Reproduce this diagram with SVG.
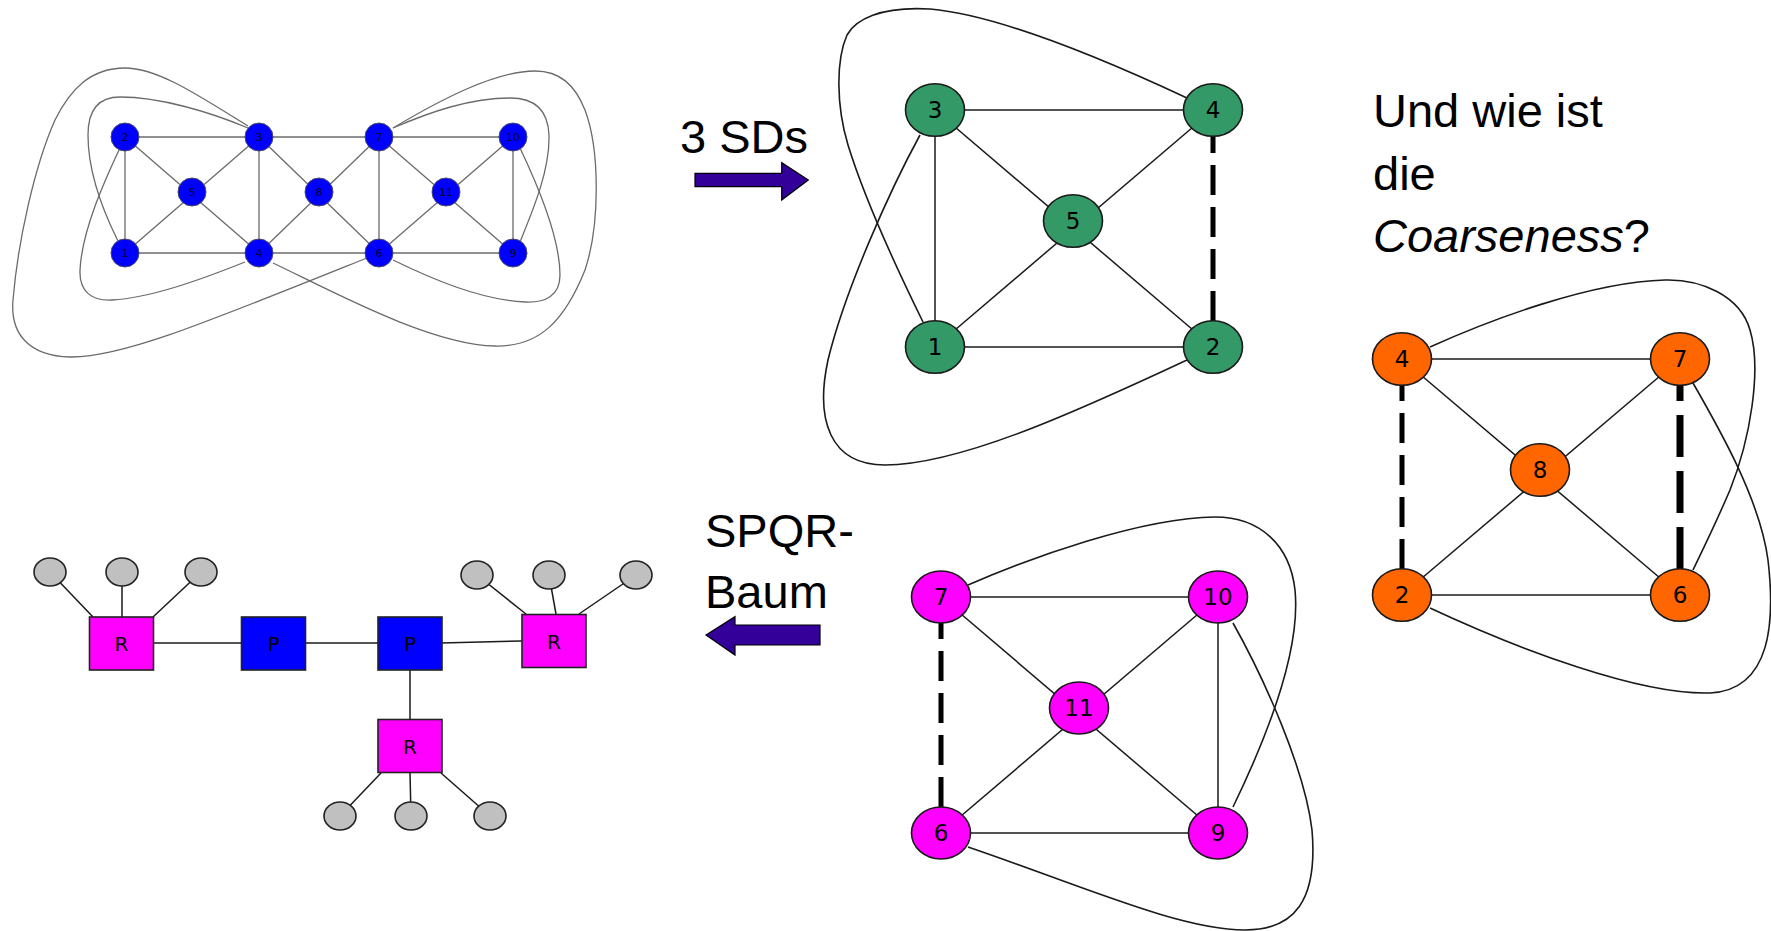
<svg xmlns="http://www.w3.org/2000/svg" width="1771" height="931" viewBox="0 0 1771 931">
<defs>
<style>
.bg{fill:#fff}
.be{stroke:#6b6b6b;stroke-width:1.3;fill:none}
.bn{fill:#0000ff;stroke:#4a4a6a;stroke-width:1}
.bt{font-family:"DejaVu Sans",sans-serif;font-size:11px;fill:#000033;text-anchor:middle}
.e{stroke:#1a1a1a;stroke-width:1.5;fill:none}
.c{stroke:#1a1a1a;stroke-width:1.6;fill:none}
.d{stroke:#000;stroke-width:5;stroke-dasharray:30 12;fill:none}
.d2{stroke:#000;stroke-width:7;stroke-dasharray:42 14;fill:none}
.n{stroke:#1a1a1a;stroke-width:1.6}
.g{fill:#339966}
.o{fill:#ff6600}
.m{fill:#ff00ff}
.lt{font-family:"DejaVu Sans",sans-serif;font-size:23px;fill:#000;text-anchor:middle}
.big{font-family:"Liberation Sans",Arial,sans-serif;font-size:47px;fill:#000}
.arr{fill:#330099;stroke:#000;stroke-width:1.2}
.sq{stroke:#222;stroke-width:1.6}
.gr{fill:#c0c0c0;stroke:#222;stroke-width:1.6}
.st{font-family:"DejaVu Sans",sans-serif;font-size:20px;fill:#000;text-anchor:middle}
</style>
</defs>
<rect class="bg" x="0" y="0" width="1771" height="931"/>

<!-- Blue graph -->
<g id="blue-graph">
<g id="blue-edges">
<line class="be" x1="125" y1="137" x2="513" y2="137"/>
<line class="be" x1="125" y1="253" x2="513" y2="253"/>
<line class="be" x1="125" y1="137" x2="125" y2="253"/>
<line class="be" x1="259" y1="137" x2="259" y2="253"/>
<line class="be" x1="379" y1="137" x2="379" y2="253"/>
<line class="be" x1="513" y1="137" x2="513" y2="253"/>
<line class="be" x1="125" y1="137" x2="259" y2="253"/>
<line class="be" x1="125" y1="253" x2="259" y2="137"/>
<line class="be" x1="259" y1="137" x2="379" y2="253"/>
<line class="be" x1="259" y1="253" x2="379" y2="137"/>
<line class="be" x1="379" y1="137" x2="513" y2="253"/>
<line class="be" x1="379" y1="253" x2="513" y2="137"/>
<path class="be" d="M248,126 C205,100 160,68 125,68 C90,68 70,90 55,120 C35,165 18,240 13,300 C10,335 30,356 70,357 C120,358 200,325 367,258"/>
<path class="be" d="M273,263 C330,290 430,345 495,346 C540,347 565,320 585,270 C600,225 600,150 585,110 C575,85 560,71 535,71 C495,71 440,100 393,128"/>
<path class="be" d="M118,241 C100,205 88,170 88,135 C88,108 100,97 120,97 C160,97 210,112 248,128"/>
<path class="be" d="M119,150 C105,180 82,230 80,270 C79,292 92,301 112,300 C150,298 200,280 245,262"/>
<path class="be" d="M520,242 C533,210 550,170 549,135 C548,110 535,98 510,98 C470,98 430,112 393,128"/>
<path class="be" d="M520,148 C540,190 560,240 560,275 C560,296 545,303 525,302 C480,300 430,278 393,260"/>
</g>
<g id="b2"><circle class="bn" cx="125" cy="137" r="14"/><text class="bt" x="125" y="141">2</text></g>
<g id="b3"><circle class="bn" cx="259" cy="137" r="14"/><text class="bt" x="259" y="141">3</text></g>
<g id="b7"><circle class="bn" cx="379" cy="137" r="14"/><text class="bt" x="379" y="141">7</text></g>
<g id="b10"><circle class="bn" cx="513" cy="137" r="14"/><text class="bt" x="513" y="141">10</text></g>
<g id="b5"><circle class="bn" cx="192" cy="192" r="14"/><text class="bt" x="192" y="196">5</text></g>
<g id="b8"><circle class="bn" cx="319" cy="192" r="14"/><text class="bt" x="319" y="196">8</text></g>
<g id="b11"><circle class="bn" cx="446" cy="192" r="14"/><text class="bt" x="446" y="196">11</text></g>
<g id="b1"><circle class="bn" cx="125" cy="253" r="14"/><text class="bt" x="125" y="257">1</text></g>
<g id="b4"><circle class="bn" cx="259" cy="253" r="14"/><text class="bt" x="259" y="257">4</text></g>
<g id="b6"><circle class="bn" cx="379" cy="253" r="14"/><text class="bt" x="379" y="257">6</text></g>
<g id="b9"><circle class="bn" cx="513" cy="253" r="14"/><text class="bt" x="513" y="257">9</text></g>
</g>

<!-- Arrows and text -->
<g id="label-3sds"><text class="big" x="680" y="153">3 SDs</text></g>
<g id="arrow-right"><path class="arr" d="M695,173.3 H781.7 V162.7 L808.3,180 L781.7,200 V186.7 H695 Z"/></g>
<g id="label-spqr"><text class="big" x="705" y="546.7">SPQR-</text><text class="big" x="705" y="608.3">Baum</text></g>
<g id="arrow-left"><path class="arr" d="M820,625 H735 V616.7 L706,635 L735,655 V645 H820 Z"/></g>
<g id="label-question"><text class="big" x="1373" y="126.7">Und wie ist</text><text class="big" x="1373" y="190">die</text><text class="big" x="1373" y="251.7"><tspan font-style="italic">Coarseness</tspan>?</text></g>

<!-- Green graph -->
<g id="green-graph">
<g id="green-edges">
<line class="e" x1="935" y1="110" x2="1213" y2="110"/>
<line class="e" x1="935" y1="347" x2="1213" y2="347"/>
<line class="e" x1="935" y1="110" x2="935" y2="347"/>
<line class="e" x1="935" y1="110" x2="1213" y2="347"/>
<line class="e" x1="935" y1="347" x2="1213" y2="110"/>
<line class="d" x1="1213" y1="321" x2="1213" y2="136"/>
<path class="c" d="M1187,98 C1110,62 1000,15 930,9 C880,6 855,20 847,35 C836,60 836,105 848,145 C865,200 895,265 923,322"/>
<path class="c" d="M920,135 C890,190 845,290 828,360 C815,420 830,465 885,465 C960,465 1080,410 1187,360"/>
</g>
<g id="g3"><ellipse class="n g" cx="935" cy="110" rx="29.5" ry="26.3"/><text class="lt" x="935" y="118">3</text></g>
<g id="g4"><ellipse class="n g" cx="1213" cy="110" rx="29.5" ry="26.3"/><text class="lt" x="1213" y="118">4</text></g>
<g id="g5"><ellipse class="n g" cx="1073" cy="221" rx="29.5" ry="26.3"/><text class="lt" x="1073" y="229">5</text></g>
<g id="g1"><ellipse class="n g" cx="935" cy="347" rx="29.5" ry="26.3"/><text class="lt" x="935" y="355">1</text></g>
<g id="g2"><ellipse class="n g" cx="1213" cy="347" rx="29.5" ry="26.3"/><text class="lt" x="1213" y="355">2</text></g>
</g>

<!-- Orange graph -->
<g id="orange-graph">
<g id="orange-edges">
<line class="e" x1="1402" y1="359" x2="1680" y2="359"/>
<line class="e" x1="1402" y1="595" x2="1680" y2="595"/>
<line class="e" x1="1402" y1="359" x2="1680" y2="595"/>
<line class="e" x1="1402" y1="595" x2="1680" y2="359"/>
<line class="d" x1="1402" y1="569" x2="1402" y2="385"/>
<line class="d2" x1="1680" y1="569" x2="1680" y2="385"/>
<path class="c" d="M1430,347 C1490,320 1590,282 1665,280 C1700,279 1740,295 1750,330 C1762,370 1750,440 1730,490 C1715,525 1705,545 1693,570"/>
<path class="c" d="M1693,383 C1720,430 1760,500 1768,560 C1775,620 1772,690 1710,693 C1640,695 1520,650 1430,608"/>
</g>
<g id="o4"><ellipse class="n o" cx="1402" cy="359" rx="29.5" ry="26.3"/><text class="lt" x="1402" y="367">4</text></g>
<g id="o7"><ellipse class="n o" cx="1680" cy="359" rx="29.5" ry="26.3"/><text class="lt" x="1680" y="367">7</text></g>
<g id="o8"><ellipse class="n o" cx="1540" cy="470" rx="29.5" ry="26.3"/><text class="lt" x="1540" y="478">8</text></g>
<g id="o2"><ellipse class="n o" cx="1402" cy="595" rx="29.5" ry="26.3"/><text class="lt" x="1402" y="603">2</text></g>
<g id="o6"><ellipse class="n o" cx="1680" cy="595" rx="29.5" ry="26.3"/><text class="lt" x="1680" y="603">6</text></g>
</g>

<!-- Magenta graph -->
<g id="magenta-graph">
<g id="magenta-edges">
<line class="e" x1="941" y1="597" x2="1218" y2="597"/>
<line class="e" x1="941" y1="833" x2="1218" y2="833"/>
<line class="e" x1="1218" y1="597" x2="1218" y2="833"/>
<line class="e" x1="941" y1="597" x2="1218" y2="833"/>
<line class="e" x1="941" y1="833" x2="1218" y2="597"/>
<line class="d" x1="941" y1="807" x2="941" y2="623"/>
<path class="c" d="M968,585 C1030,558 1140,518 1215,517 C1260,517 1290,545 1295,590 C1300,640 1280,710 1233,807"/>
<path class="c" d="M1233,623 C1265,680 1305,770 1312,830 C1318,900 1295,930 1245,930 C1180,930 1080,885 968,847"/>
</g>
<g id="m7"><ellipse class="n m" cx="941" cy="597" rx="29.5" ry="26"/><text class="lt" x="941" y="605">7</text></g>
<g id="m10"><ellipse class="n m" cx="1218" cy="597" rx="29.5" ry="26"/><text class="lt" x="1218" y="605">10</text></g>
<g id="m11"><ellipse class="n m" cx="1079" cy="708" rx="29.5" ry="26"/><text class="lt" x="1079" y="716">11</text></g>
<g id="m6"><ellipse class="n m" cx="941" cy="833" rx="29.5" ry="26"/><text class="lt" x="941" y="841">6</text></g>
<g id="m9"><ellipse class="n m" cx="1218" cy="833" rx="29.5" ry="26"/><text class="lt" x="1218" y="841">9</text></g>
</g>

<!-- SPQR tree -->
<g id="spqr-tree">
<g id="spqr-edges">
<line class="e" x1="93" y1="617" x2="50" y2="572"/>
<line class="e" x1="122" y1="617" x2="122" y2="572"/>
<line class="e" x1="153" y1="617" x2="201" y2="572"/>
<line class="e" x1="526" y1="614" x2="477" y2="575"/>
<line class="e" x1="556" y1="614" x2="549" y2="575"/>
<line class="e" x1="579" y1="614" x2="636" y2="575"/>
<line class="e" x1="381" y1="773" x2="340" y2="816"/>
<line class="e" x1="410" y1="773" x2="411" y2="816"/>
<line class="e" x1="441" y1="773" x2="490" y2="816"/>
<line class="e" x1="153" y1="643" x2="242" y2="643"/>
<line class="e" x1="306" y1="643" x2="378" y2="643"/>
<line class="e" x1="441" y1="643" x2="522" y2="641"/>
<line class="e" x1="410" y1="670" x2="410" y2="719"/>
</g>
<g id="leaf1"><ellipse class="gr" cx="50" cy="572" rx="16" ry="14"/></g>
<g id="leaf2"><ellipse class="gr" cx="122" cy="572" rx="16" ry="14"/></g>
<g id="leaf3"><ellipse class="gr" cx="201" cy="572" rx="16" ry="14"/></g>
<g id="leaf4"><ellipse class="gr" cx="477" cy="575" rx="16" ry="14"/></g>
<g id="leaf5"><ellipse class="gr" cx="549" cy="575" rx="16" ry="14"/></g>
<g id="leaf6"><ellipse class="gr" cx="636" cy="575" rx="16" ry="14"/></g>
<g id="leaf7"><ellipse class="gr" cx="340" cy="816" rx="16" ry="14"/></g>
<g id="leaf8"><ellipse class="gr" cx="411" cy="816" rx="16" ry="14"/></g>
<g id="leaf9"><ellipse class="gr" cx="490" cy="816" rx="16" ry="14"/></g>
<g id="r-left"><rect class="sq m" x="89.5" y="617" width="64" height="53"/><text class="st" x="121.5" y="651">R</text></g>
<g id="p-left"><rect class="sq" fill="#0000ff" x="241.5" y="617" width="64" height="53"/><text class="st" x="273.5" y="651">P</text></g>
<g id="p-right"><rect class="sq" fill="#0000ff" x="378" y="617" width="64" height="53"/><text class="st" x="410" y="651">P</text></g>
<g id="r-right"><rect class="sq m" x="522" y="614.5" width="64" height="53"/><text class="st" x="554" y="648.5">R</text></g>
<g id="r-bottom"><rect class="sq m" x="378" y="719.5" width="64" height="53"/><text class="st" x="410" y="753.5">R</text></g>
</g>
</svg>
